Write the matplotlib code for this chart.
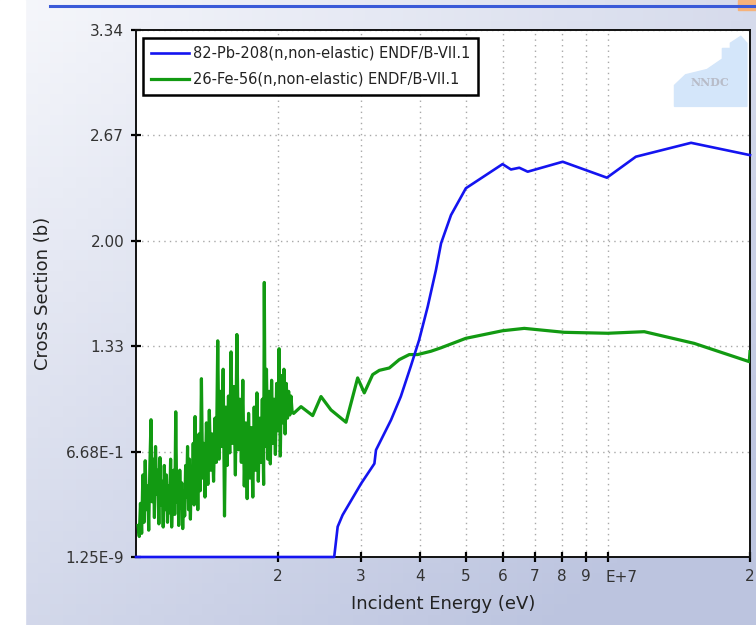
import numpy as np
import matplotlib
matplotlib.use("Agg")
import matplotlib.pyplot as plt
from matplotlib.patches import Polygon, Rectangle
from matplotlib.lines import Line2D
from matplotlib.colors import LinearSegmentedColormap
from matplotlib.ticker import FixedLocator, FixedFormatter, NullLocator

# ---------------- data ----------------
# 82-Pb-208 (n,non-elastic): energy in MeV, cross section in barns
pb_energy_mev = [1.0, 2.63, 2.675, 2.74, 3.0, 3.20, 3.225, 3.47, 3.64, 3.82, 3.98,
                 4.15, 4.32, 4.43, 4.65, 5.0, 5.98, 6.23, 6.49, 6.76, 8.02,
                 9.95, 11.46, 15.0, 20.0]
pb_xs = [0.0, 0.0, 0.192, 0.266, 0.466, 0.592, 0.678, 0.868, 1.017, 1.207, 1.375,
         1.586, 1.818, 1.988, 2.167, 2.337, 2.490, 2.456, 2.467, 2.442, 2.505,
         2.404, 2.537, 2.625, 2.547]

# 26-Fe-56 (n,non-elastic): resonance region (MeV, barns)
fe_noisy_energy_mev = [
    1.010, 1.016, 1.022, 1.028, 1.034, 1.040, 1.046, 1.052, 1.058, 1.064,
    1.070, 1.076, 1.082, 1.088, 1.094, 1.100, 1.106, 1.112, 1.118, 1.124,
    1.130, 1.136, 1.142, 1.148, 1.154, 1.160, 1.166, 1.172, 1.178, 1.184,
    1.190, 1.196, 1.202, 1.208, 1.214, 1.220, 1.226, 1.232, 1.238, 1.244,
    1.250, 1.256, 1.262, 1.268, 1.274, 1.280, 1.286, 1.292, 1.298, 1.304,
    1.310, 1.316, 1.322, 1.328, 1.334, 1.340, 1.346, 1.352, 1.360, 1.368,
    1.376, 1.384, 1.392, 1.400, 1.410, 1.420, 1.430, 1.440, 1.450, 1.460,
    1.470, 1.480, 1.490, 1.500, 1.510, 1.520, 1.530, 1.540, 1.550, 1.560,
    1.570, 1.580, 1.590, 1.600, 1.612, 1.624, 1.636, 1.648, 1.660, 1.672,
    1.684, 1.696, 1.708, 1.720, 1.732, 1.744, 1.756, 1.768, 1.780, 1.792,
    1.804, 1.816, 1.828, 1.840, 1.852, 1.864, 1.870, 1.878, 1.890, 1.902,
    1.914, 1.926, 1.938, 1.950, 1.962, 1.974, 1.986, 1.998, 2.010, 2.022,
    2.034, 2.046, 2.058, 2.070, 2.082, 2.094, 2.106, 2.118, 2.130, 2.142,
    2.158]
fe_noisy_xs = [
    0.20, 0.13, 0.34, 0.15, 0.52, 0.22, 0.61, 0.30, 0.45, 0.17,
    0.58, 0.87, 0.35, 0.62, 0.25, 0.70, 0.40, 0.55, 0.21, 0.63,
    0.33, 0.48, 0.19, 0.58, 0.30, 0.52, 0.22, 0.45, 0.28, 0.62,
    0.19, 0.40, 0.55, 0.27, 0.92, 0.35, 0.50, 0.20, 0.55, 0.31,
    0.47, 0.18, 0.42, 0.26, 0.58, 0.38, 0.70, 0.30, 0.62, 0.24,
    0.55, 0.40, 0.72, 0.33, 0.89, 0.45, 0.65, 0.30, 0.78, 0.42,
    1.13, 0.50, 0.72, 0.38, 0.85, 0.46, 0.93, 0.55, 0.78, 0.48,
    0.88, 0.60, 1.37, 0.62, 1.05, 0.70, 1.19, 0.26, 0.95, 0.58,
    1.02, 0.66, 1.30, 0.72, 1.08, 0.52, 1.41, 0.68, 1.00, 0.60,
    1.12, 0.45, 0.85, 0.37, 0.91, 0.50, 0.82, 0.38, 0.95, 0.55,
    1.04, 0.48, 0.88, 0.60, 1.00, 0.46, 1.74, 0.70, 1.19, 0.62,
    1.05, 0.59, 1.12, 0.72, 1.00, 0.65, 1.10, 0.80, 1.32, 0.64,
    1.15, 0.85, 1.19, 0.78, 1.10, 0.88, 1.05, 0.90, 1.02, 0.92,
    0.91]
# smooth region
fe_smooth_energy_mev = [2.237, 2.368, 2.466, 2.589, 2.786, 2.949, 3.046, 3.173,
                        3.278, 3.442, 3.613, 3.794, 3.952, 4.217, 4.43, 5.0,
                        5.98, 6.65, 8.08, 9.99, 11.94, 15.23, 19.93, 20.0]
fe_smooth_xs = [0.953, 0.896, 1.017, 0.932, 0.854, 1.135, 1.040, 1.156,
                1.183, 1.198, 1.251, 1.283, 1.283, 1.304, 1.326, 1.386,
                1.434, 1.449, 1.424, 1.418, 1.428, 1.354, 1.238, 1.301]

series_labels = ["82-Pb-208(n,non-elastic) ENDF/B-VII.1",
                 "26-Fe-56(n,non-elastic) ENDF/B-VII.1"]

x_tick_values = [2e6, 3e6, 4e6, 5e6, 6e6, 7e6, 8e6, 9e6, 1e7, 2e7]
x_tick_labels = ["2", "3", "4", "5", "6", "7", "8", "9", "", "2"]
y_tick_values = [0.0, 0.668, 1.336, 2.004, 2.672, 3.34]
y_tick_labels = ["1.25E-9", "6.68E-1", "1.33", "2.00", "2.67", "3.34"]

# ---------------- figure ----------------
W, H = 756, 625
fig = plt.figure(figsize=(W / 100, H / 100), dpi=100)

# background gradient (slide look) drawn as a mesh instead of an image
bg = fig.add_axes([0, 0, 1, 1], zorder=-10)
gxe = np.linspace(0, 1, 61)
gye = np.linspace(0, 1, 61)
gxc = 0.5 * (gxe[:-1] + gxe[1:])
gyc = 0.5 * (gye[:-1] + gye[1:])
GX, GY = np.meshgrid(gxc, gyc)
tval = np.clip(0.55 * GX + 0.6 * (1 - GY), 0, 1)
grad_cmap = LinearSegmentedColormap.from_list("slide", ["#f6f7fb", "#bcc4df"])
bg.pcolormesh(gxe, gye, tval, cmap=grad_cmap, vmin=0, vmax=1,
              shading="flat", antialiased=False, edgecolors="none")
bg.add_patch(Rectangle((0, 0), 25 / W, 1, color="white", transform=bg.transAxes))
bg.set_xlim(0, 1)
bg.set_ylim(0, 1)
bg.axis("off")
fig.add_artist(Line2D([50 / W, 1], [1 - 6 / H, 1 - 6 / H], color="#3a5ad8", lw=2.2))
fig.add_artist(Rectangle((738 / W, 1 - 10 / H), 18 / W, 10 / H, color="#f6b27a"))

ax = fig.add_axes([136 / W, 1 - 557 / H, (750 - 136) / W, (557 - 30) / H])
ax.set_facecolor("white")
ax.set_xscale("log")
ax.set_xlim(1e6, 2e7)
ax.set_ylim(0, 3.34)

pb_e = np.array(pb_energy_mev) * 1e6
fe_e = np.array(fe_noisy_energy_mev + fe_smooth_energy_mev) * 1e6
fe_y = np.array(fe_noisy_xs + fe_smooth_xs)

ax.plot(pb_e, pb_xs, color="#1414f0", lw=1.9, label=series_labels[0],
        clip_on=False, zorder=5)
ax.plot(fe_e, fe_y, color="#129a12", lw=2.3, label=series_labels[1],
        zorder=4)

ax.xaxis.set_major_locator(FixedLocator(x_tick_values))
ax.xaxis.set_major_formatter(FixedFormatter(x_tick_labels))
ax.xaxis.set_minor_locator(NullLocator())
ax.yaxis.set_major_locator(FixedLocator(y_tick_values))
ax.yaxis.set_major_formatter(FixedFormatter(y_tick_labels))

ax.grid(True, linestyle=(0, (1, 3)), color="#a8a8a8", lw=1.0)
ax.tick_params(axis="both", direction="inout", length=7, width=1.6,
               labelsize=11, labelcolor="#333333", color="black", pad=5)
for s in ax.spines.values():
    s.set_linewidth(1.4)
    s.set_color("#111111")

ax.text(1.07e7, -0.08, "E+7", transform=ax.transData, ha="center", va="top",
        fontsize=11, color="#333333")

ax.set_xlabel("Incident Energy (eV)", fontsize=13, color="#222222", labelpad=8)
ax.set_ylabel("Cross Section (b)", fontsize=13, color="#222222", labelpad=10)

leg = ax.legend(loc="upper left", bbox_to_anchor=(0.011, 0.985), fontsize=10.5,
                frameon=True, fancybox=False, handlelength=2.6,
                borderpad=0.55, labelspacing=0.75, handletextpad=0.3,
                borderaxespad=0)
leg.get_frame().set_edgecolor("black")
leg.get_frame().set_linewidth(1.8)
leg.get_frame().set_alpha(1.0)
for txt in leg.get_texts():
    txt.set_color("#222222")

# NNDC watermark logo
house = [(0.877, 0.855), (0.877, 0.895), (0.895, 0.915), (0.93, 0.925),
         (0.955, 0.945), (0.955, 0.965), (0.968, 0.965), (0.968, 0.975),
         (0.985, 0.988), (0.995, 0.975), (0.995, 0.855)]
ax.add_patch(Polygon(house, closed=True, transform=ax.transAxes,
                     color="#d4e6fa", zorder=1))
ax.text(0.935, 0.9, "NNDC", transform=ax.transAxes, ha="center",
        va="center", fontsize=8, color="#b8bcc8", family="DejaVu Serif",
        fontweight="bold", zorder=2)

fig.savefig("out.png", dpi=100)
